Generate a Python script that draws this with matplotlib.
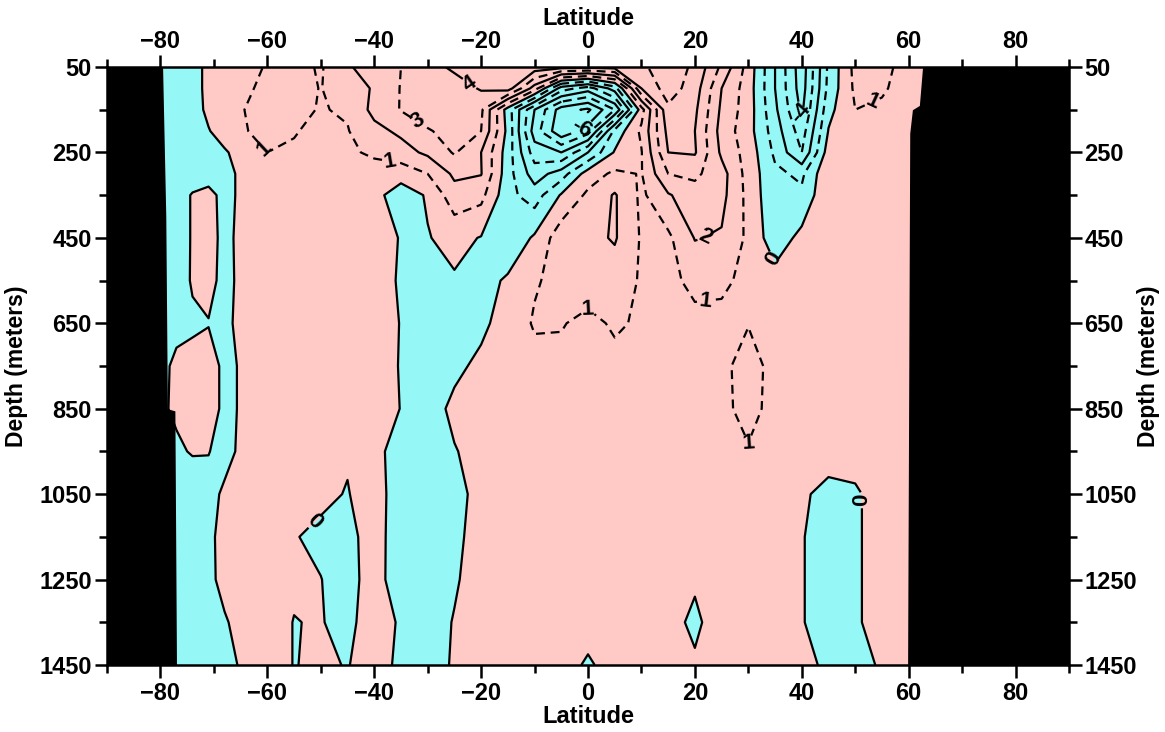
import numpy as np
import matplotlib
matplotlib.use("Agg")
import matplotlib.pyplot as plt
from matplotlib.ticker import MultipleLocator

plt.rcParams['font.family'] = ['Liberation Sans', 'DejaVu Sans']
plt.rcParams['font.weight'] = 'bold'

# grid of the section: latitude columns and depth rows (m)
lats = [-90, -80, -77, -74, -71, -68, -65, -60, -55, -50, -45, -40, -35, -30, -25, -20, -15, -10,
        -5, 0, 5, 10, 15, 20, 25, 30, 35, 40, 45, 50, 55, 60, 65, 90]
depths = [50, 100, 150, 200, 250, 300, 350, 450, 550, 650, 750, 850, 950, 1050, 1150, 1250, 1350, 1450]

# field values, one list per depth level (same order as lats)
v0050 = [-1.0, -1.0, -0.8, -0.3, 0.2, 0.5, 0.75, 1.05, 1.3, 0.9, 1.9, 2.4, 3.0, 3.6, 4.2, 4.6, 4.8, 4.6,
         4.4, 4.3, 4.4, 4.8, 5.6, 4.8, 2.8, 0.6, -2.0, -4.6, -0.8, 1.3, 1.3, 0.6, 0.5, 0.5]
v0100 = [-1.0, -1.0, -0.8, -0.3, 0.2, 0.55, 0.85, 1.15, 1.3, 0.97, 1.5, 2.1, 3.05, 3.3, 3.5, 4.1, 4.5, 1.5,
         -2.5, -3.5, -1.5, 4.0, 5.5, 4.5, 2.0, 0.5, -2.0, -4.5, -0.7, 1.2, 1.15, 0.5, 0.4, 0.4]
v0150 = [-1.0, -1.0, -0.8, -0.4, 0.2, 0.5, 0.95, 1.3, 1.2, 0.95, 1.1, 2.3, 3.05, 3.3, 3.4, 3.2, -0.5, -4.0,
         -6.5, -7.2, -5.0, 0.6, 4.8, 4.2, 1.8, 0.5, -1.8, -4.2, -0.3, 1.0, 0.8, 0.4, 0.4, 0.4]
v0200 = [-1.0, -1.0, -0.7, -0.4, -0.05, 0.4, 0.9, 1.25, 1.05, 0.8, 0.95, 1.7, 2.2, 2.95, 3.2, 3.0, -0.3, -4.5,
         -6.8, -5.5, -0.7, 1.2, 4.3, 4.0, 1.6, 0.4, -1.5, -3.5, 0.05, 0.8, 0.6, 0.35, 0.35, 0.35]
v0250 = [-0.8, -0.8, -0.6, -0.4, -0.3, -0.1, 0.3, 1.0, 0.9, 0.7, 0.8, 1.2, 1.6, 2.2, 3.1, 2.0, -0.5, -3.5,
         -4.0, -2.0, 0.1, 0.95, 4.0, 4.1, 1.8, 0.6, -1.2, -3.0, 0.5, 0.7, 0.5, 0.3, 0.3, 0.3]
v0300 = [-0.7, -0.7, -0.5, -0.35, -0.3, -0.2, 0.1, 0.5, 0.6, 0.55, 0.6, 0.5, 0.4, 1.0, 2.2, 2.05, -0.6, -2.5,
         -1.5, 0.5, 1.2, 0.95, 3.0, 3.2, 2.4, 0.6, -0.8, -1.2, 0.9, 0.6, 0.4, 0.3, 0.3, 0.3]
v0350 = [-0.5, -0.5, -0.3, 0.05, 0.2, -0.2, 0.1, 0.4, 0.45, 0.45, 0.4, 0.3, -0.5, 0.1, 1.6, 1.3, -0.7, -1.5,
         0.1, 1.2, 2.1, 0.8, 1.9, 2.6, 2.3, 0.7, -0.8, -0.8, 0.9, 0.5, 0.4, 0.3, 0.3, 0.3]
v0450 = [-0.5, -0.5, -0.3, 0.05, 0.2, -0.15, 0.12, 0.4, 0.45, 0.45, 0.4, 0.4, -0.05, -0.05, 0.3, -0.05, -0.8, 0.15,
         1.6, 1.7, 2.1, 0.9, 0.8, 2.05, 1.9, 0.8, -0.6, 0.3, 0.6, 0.5, 0.4, 0.3, 0.3, 0.3]
v0550 = [-0.4, -0.4, -0.3, 0.06, 0.15, -0.15, 0.1, 0.4, 0.45, 0.45, 0.45, 0.4, -0.1, -0.5, -0.1, -0.4, 0.15, 0.9,
         1.3, 1.4, 1.5, 0.9, 0.7, 1.3, 1.15, 0.8, 0.4, 0.6, 0.5, 0.5, 0.4, 0.3, 0.3, 0.3]
v0650 = [-0.4, -0.4, -0.2, -0.1, -0.02, -0.1, 0.1, 0.4, 0.45, 0.45, 0.45, 0.4, -0.03, -0.5, -0.5, -0.2, 0.4, 1.1,
         1.05, 0.8, 1.1, 0.9, 0.6, 0.7, 0.8, 0.95, 0.6, 0.5, 0.5, 0.5, 0.4, 0.3, 0.3, 0.3]
v0750 = [-0.2, -0.2, 0.15, 0.2, 0.2, -0.1, 0.03, 0.3, 0.4, 0.4, 0.4, 0.4, -0.05, -0.5, -0.2, 0.2, 0.5, 0.7,
         0.8, 0.8, 0.8, 0.7, 0.6, 0.6, 0.7, 1.5, 0.6, 0.5, 0.5, 0.5, 0.4, 0.3, 0.3, 0.3]
v0850 = [-0.1, -0.1, 0.1, 0.2, 0.2, -0.1, 0.03, 0.3, 0.35, 0.35, 0.35, 0.4, -0.02, -0.4, 0.2, 0.4, 0.5, 0.6,
         0.7, 0.7, 0.7, 0.7, 0.6, 0.6, 0.7, 1.4, 0.6, 0.5, 0.5, 0.5, 0.4, 0.3, 0.3, 0.3]
v0950 = [-0.3, -0.3, -0.1, 0.05, 0.02, -0.2, 0.1, 0.3, 0.3, 0.3, 0.1, 0.2, -0.3, -0.5, -0.05, 0.3, 0.4, 0.5,
         0.5, 0.5, 0.5, 0.5, 0.5, 0.5, 0.6, 0.9, 0.5, 0.3, 0.3, 0.3, 0.4, 0.3, 0.3, 0.3]
v1050 = [-0.5, -0.5, -0.5, -0.4, -0.2, 0.1, 0.3, 0.35, 0.3, 0.2, -0.05, 0.5, -0.6, -0.5, -0.3, 0.3, 0.4, 0.4,
         0.4, 0.4, 0.4, 0.4, 0.4, 0.4, 0.4, 0.4, 0.3, 0.1, -0.2, -0.1, 0.3, 0.3, 0.3, 0.3]
v1150 = [-0.5, -0.5, -0.5, -0.4, -0.1, 0.15, 0.3, 0.3, 0.05, -0.2, -0.4, 0.6, -0.8, -0.6, -0.2, 0.35, 0.4, 0.4,
         0.4, 0.4, 0.4, 0.4, 0.4, 0.4, 0.4, 0.4, 0.3, 0.05, -0.4, -0.2, 0.6, 0.3, 0.3, 0.3]
v1250 = [-0.5, -0.5, -0.5, -0.4, -0.12, 0.15, 0.3, 0.3, 0.1, 0.02, -0.4, 0.5, -0.7, -0.6, -0.1, 0.4, 0.4, 0.4,
         0.4, 0.4, 0.4, 0.4, 0.4, 0.2, 0.4, 0.4, 0.3, 0.05, -0.4, -0.2, 0.6, 0.3, 0.3, 0.3]
v1350 = [-0.4, -0.4, -0.4, -0.3, -0.2, -0.05, 0.15, 0.3, -0.02, 0.05, -0.3, 0.6, -0.15, -0.4, 0.05, 0.4, 0.4, 0.4,
         0.3, 0.3, 0.3, 0.4, 0.5, -0.3, 0.8, 0.4, 0.3, 0.05, -0.4, -0.2, 0.6, 0.3, 0.3, 0.3]
v1450 = [-0.4, -0.4, -0.4, -0.35, -0.3, -0.2, 0.05, 0.3, -0.02, 0.1, -0.03, 0.3, -0.15, -0.4, 0.1, 0.4, 0.4, 0.4,
         0.3, -0.1, 0.3, 0.4, 0.4, 0.2, 0.4, 0.4, 0.3, 0.3, -0.2, -0.3, 0.1, 0.3, 0.3, 0.3]

# land outlines (edge latitude vs depth)
south_land_depth = [50, 400, 850, 855, 1450]
south_land_lat = [-79.6, -79.0, -78.7, -77.3, -77.0]
north_land_depth = [50, 140, 150, 205, 1450]
north_land_lat = [62.6, 62.0, 60.7, 60.2, 59.8]

# contour labels: (level, latitude, depth)
label_spots = [(1, -61, 245), (3, -32, 179), (4, -23, 104), (1, -37, 268), (-6, -1, 197),
               (2, 22, 450), (1, 0, 607), (1, 22, 607), (1, 29, 935), (-4, 39, 162),
               (0, 33.5, 506), (1, 53, 127), (0, -52.5, 1099), (0, 48.6, 1064)]

field = np.array([v0050, v0100, v0150, v0200, v0250, v0300, v0350, v0450, v0550, v0650,
                  v0750, v0850, v0950, v1050, v1150, v1250, v1350, v1450])
X, Y = np.meshgrid(lats, depths)

fig = plt.figure(figsize=(11.65, 7.32), dpi=100)
ax = fig.add_axes([107 / 1165, 1 - 665 / 732, 962 / 1165, 598 / 732])

ax.contourf(X, Y, field, levels=[-100, 0, 100], colors=['#96f7f7', '#ffc9c6'], zorder=1)

# one contour set per level: even levels solid, odd levels dashed
for lv in range(-8, 10):
    if field.min() > lv or field.max() < lv:
        continue
    style = 'solid' if lv % 2 == 0 else (0, (4, 2.6))
    cs = ax.contour(X, Y, field, levels=[lv], colors='black', linewidths=1.6,
                    linestyles=[style], zorder=2)
    spots = [(la, de) for l, la, de in label_spots if l == lv]
    if spots:
        ax.clabel(cs, manual=spots, inline=True, fmt='%d', fontsize=16, inline_spacing=2)

# land masks
ax.fill_betweenx(south_land_depth, -90, south_land_lat, color='black', lw=0, zorder=3)
ax.fill_betweenx(north_land_depth, north_land_lat, 90, color='black', lw=0, zorder=3)

ax.set_xlim(-90, 90)
ax.set_ylim(1450, 50)
xt = np.arange(-80, 81, 20)
yt = np.arange(50, 1451, 200)

top = ax.secondary_xaxis('top')
right = ax.secondary_yaxis('right')
for a in (ax.xaxis, top.xaxis):
    a.set_ticks(xt)
    a.set_minor_locator(MultipleLocator(10))
for a in (ax.yaxis, right.yaxis):
    a.set_ticks(yt)
    a.set_ticks(np.arange(150, 1451, 200), minor=True)

for a in (ax, top, right):
    a.tick_params(which='both', direction='out', width=1.8, labelsize=17)
    a.tick_params(which='major', length=9)
    a.tick_params(which='minor', length=6)
    for lab in a.get_xticklabels() + a.get_yticklabels():
        lab.set_fontweight('bold')
top.tick_params(pad=1)
ax.tick_params(axis='x', pad=3)
ax.tick_params(axis='y', pad=2)
right.tick_params(pad=2)

for sp in ax.spines.values():
    sp.set_linewidth(1.8)
    sp.set_zorder(5)
for sp in list(top.spines.values()) + list(right.spines.values()):
    sp.set_visible(False)

ax.set_xlabel('Latitude', fontsize=17, fontweight='bold', labelpad=0)
top.set_xlabel('Latitude', fontsize=17, fontweight='bold', labelpad=4)
ax.set_ylabel('Depth (meters)', fontsize=16.5, fontweight='bold', labelpad=8)
right.set_ylabel('Depth (meters)', fontsize=16.5, fontweight='bold', labelpad=0)

fig.savefig('out.png', dpi=100)
